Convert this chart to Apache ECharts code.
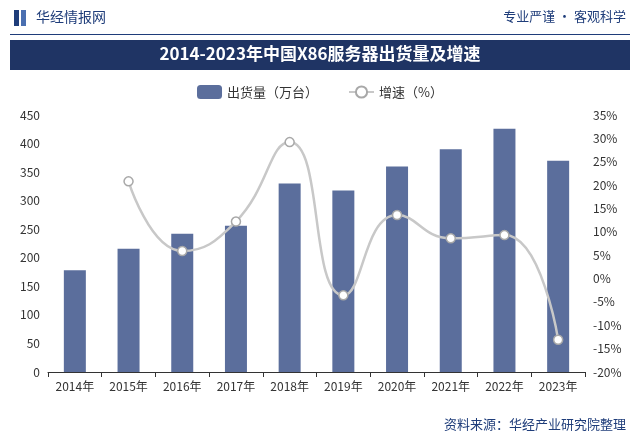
<!DOCTYPE html>
<html><head><meta charset="utf-8">
<script src="https://cdn.jsdelivr.net/npm/echarts@6/dist/echarts.min.js"></script>
<style>html,body{margin:0;padding:0;background:#fff}#c{width:640px;height:444px}</style>
</head><body><div id="c"></div>
<script>
const years = ['2014年','2015年','2016年','2017年','2018年','2019年','2020年','2021年','2022年','2023年'];
const shipments = [178,216,242,256,330,318,360,390,426,370];
const growth = [null,20.8,5.9,12.2,29.2,-3.6,13.6,8.6,9.3,-13.1];
const leftTicks = {min:0,max:450,interval:50};
const rightTicks = {min:-20,max:35,interval:5};
const chart = echarts.init(document.getElementById('c'));
const font = '"Noto Sans CJK SC", sans-serif';
chart.setOption({
  animation:false,
  textStyle:{fontFamily:font},
  graphic:[
    {type:'rect',shape:{x:14,y:10,width:5,height:16},style:{fill:'#1f3d7a'}},
    {type:'rect',shape:{x:21,y:10,width:5,height:16},style:{fill:'#4a6fb0'}},
    {type:'text',left:36,top:10,style:{text:'华经情报网',fill:'#1f3d7a',font:'14px '+font}},
    {type:'text',right:14,top:10,style:{text:'专业严谨 • 客观科学',fill:'#1f3d7a',font:'13px '+font}},
    {type:'rect',shape:{x:10,y:34,width:620,height:1},style:{fill:'#1f3d7a'}},
    {type:'rect',shape:{x:10,y:40,width:620,height:30},style:{fill:'#1f3464'}},
    {type:'text',left:'center',top:45,style:{text:'2014-2023年中国X86服务器出货量及增速',fill:'#fff',font:'bold 17px '+font}},
    {type:'text',right:14,top:418,style:{text:'资料来源：华经产业研究院整理',fill:'#1f3d7a',font:'13px '+font}}
  ],
  legend:{top:80,left:'center',itemGap:30,textStyle:{fontSize:13,color:'#333',fontFamily:font},
    data:[{name:'出货量（万台）'},{name:'增速（%）'}]},
  grid:{left:48,right:55,top:115,bottom:72},
  xAxis:{type:'category',data:years,axisLine:{lineStyle:{color:'#333'}},axisTick:{show:true,alignWithLabel:false},
    axisLabel:{color:'#333',fontSize:12}},
  yAxis:[
    {type:'value',...leftTicks,splitLine:{show:false},axisLine:{show:false},axisLabel:{color:'#333',fontSize:12}},
    {type:'value',...rightTicks,splitLine:{show:false},axisLine:{show:false},axisLabel:{color:'#333',fontSize:12,formatter:'{value}%'}}
  ],
  series:[
    {name:'出货量（万台）',type:'bar',data:shipments,barWidth:22,itemStyle:{color:'#5b6e9c'}},
    {name:'增速（%）',type:'line',yAxisIndex:1,data:growth,smooth:true,symbol:'circle',symbolSize:9,
      lineStyle:{color:'#c8c8c8',width:2.5},itemStyle:{color:'#fff',borderColor:'#a8a8a8',borderWidth:1.5}}
  ]
});
</script></body></html>
